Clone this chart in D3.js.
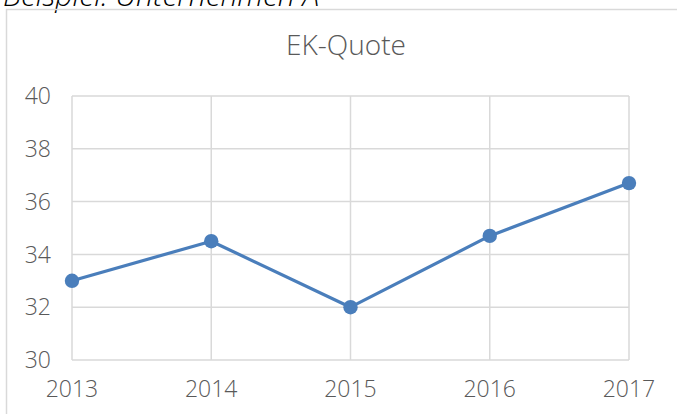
<!DOCTYPE html>
<html><head><meta charset="utf-8">
<script src="https://cdn.jsdelivr.net/npm/d3@7"></script>
<style>body{margin:0;background:#fff;overflow:hidden}</style>
</head><body>
<script>
const years = ["2013","2014","2015","2016","2017"];
const values = [33, 34.5, 32, 34.7, 36.7];
const yTicks = [30,32,34,36,38,40];
const title = "EK-Quote";
const caption = "Beispiel: Unternehmen A";

const W=677,H=414;
const svg=d3.select("body").append("svg").attr("width",W).attr("height",H);
const font="'Open Sans', 'Noto Sans', sans-serif";
const txt="#595959", grid="#d9d9d9", col="#4a7ebb";

svg.append("text").attr("x",3).attr("y",6).attr("font-family",font).attr("font-style","italic")
  .attr("font-weight",300).attr("font-size",30).attr("fill","#000").text(caption);
svg.append("rect").attr("x",6.5).attr("y",9.5).attr("width",W).attr("height",H).attr("fill","none")
  .attr("stroke",grid).attr("stroke-width",1.5);

const x=d3.scalePoint().domain(years).range([72,629]);
const y=d3.scaleLinear().domain([30,40]).range([360,96]);

svg.append("text").attr("x",346).attr("y",55).attr("text-anchor","middle").attr("font-family",font)
  .attr("font-weight",300).attr("font-size",28).attr("fill",txt).text(title);

const g=svg.append("g");
g.selectAll(".h").data(yTicks).join("line").attr("x1",72).attr("x2",629)
  .attr("y1",d=>y(d)).attr("y2",d=>y(d)).attr("stroke",grid).attr("stroke-width",1.5);
g.selectAll(".v").data(years).join("line").attr("x1",d=>x(d)).attr("x2",d=>x(d))
  .attr("y1",96).attr("y2",360).attr("stroke",grid).attr("stroke-width",1.5);

g.selectAll(".yl").data(yTicks).join("text").attr("x",51).attr("y",d=>y(d)).attr("dy","0.36em")
  .attr("text-anchor","end").attr("font-family",font).attr("font-weight",300).attr("font-size",23)
  .attr("fill",txt).text(d=>d);
g.selectAll(".xl").data(years).join("text").attr("x",d=>x(d)).attr("y",397)
  .attr("text-anchor","middle").attr("font-family",font).attr("font-weight",300).attr("font-size",23)
  .attr("fill",txt).text(d=>d);

const line=d3.line().x((d,i)=>x(years[i])).y(d=>y(d));
svg.append("path").datum(values).attr("d",line).attr("fill","none").attr("stroke",col)
  .attr("stroke-width",3.2).attr("stroke-linejoin","round");
svg.selectAll(".pt").data(values).join("circle").attr("cx",(d,i)=>x(years[i])).attr("cy",d=>y(d))
  .attr("r",7.2).attr("fill",col);
</script>
</body></html>
